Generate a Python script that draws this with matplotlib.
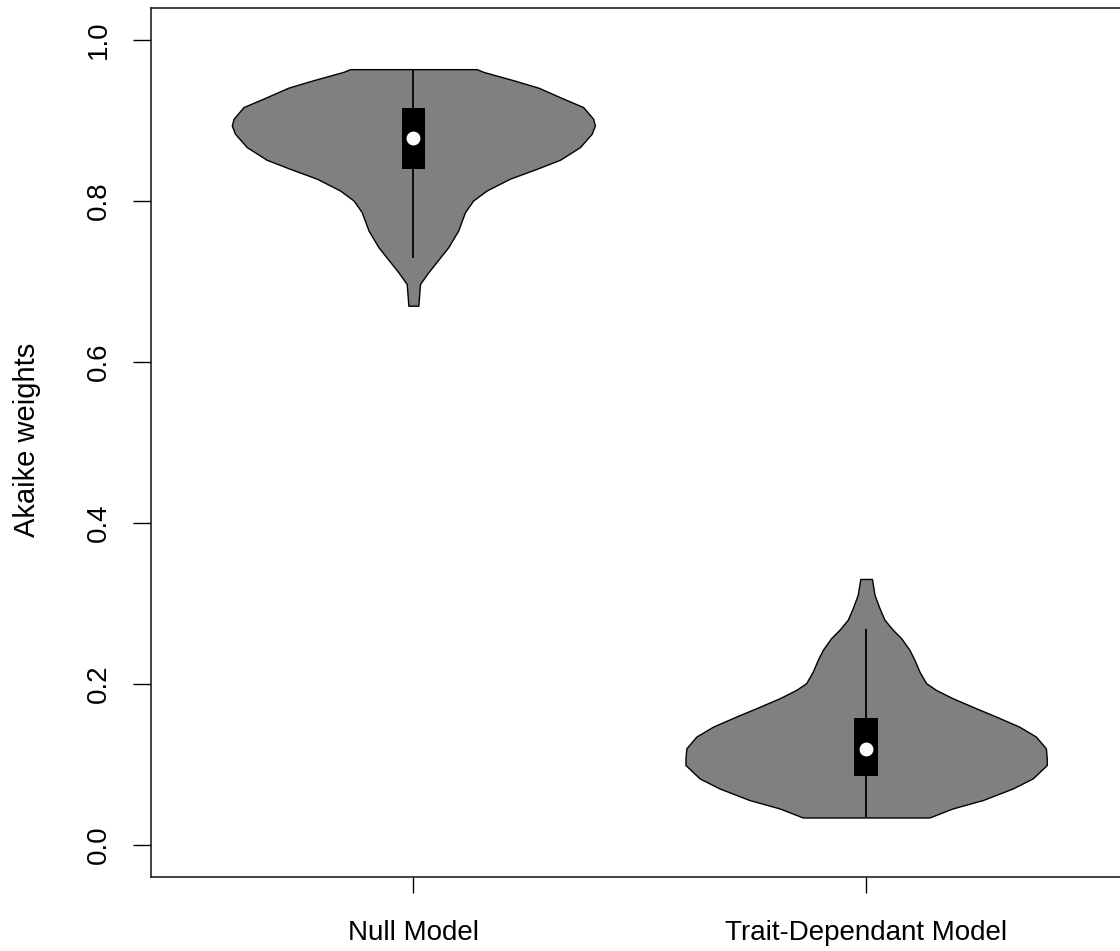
import numpy as np
import matplotlib
matplotlib.use("Agg")
import matplotlib.pyplot as plt

plt.rcParams['font.family'] = ['Liberation Sans', 'DejaVu Sans']

# groups
labels = ["Null Model", "Trait-Dependant Model"]
positions = [1, 2]

# violin outlines: y value and half width (x units)
null_y = [0.964, 0.9606, 0.9502, 0.941, 0.9274, 0.9169, 0.9024, 0.894, 0.8838,
          0.8671, 0.8514, 0.840, 0.8278, 0.8132, 0.8007, 0.7862, 0.7634,
          0.7426, 0.7115, 0.697, 0.670]
null_hw = [0.140, 0.1545, 0.221, 0.276, 0.331, 0.375, 0.397, 0.401, 0.394,
           0.368, 0.324, 0.272, 0.213, 0.162, 0.132, 0.114, 0.099,
           0.077, 0.033, 0.0147, 0.011]

trait_y = [0.3304, 0.311, 0.2943, 0.2798, 0.2673, 0.2569, 0.2424, 0.230,
           0.2154, 0.2009, 0.1925, 0.1822, 0.1697, 0.1594, 0.1469, 0.1345,
           0.1200, 0.1075, 0.0992, 0.0826, 0.0701, 0.0557, 0.0452, 0.034]
trait_hw = [0.0129, 0.0184, 0.0294, 0.0405, 0.0589, 0.0773, 0.0956, 0.1067,
            0.1177, 0.1325, 0.1545, 0.191, 0.243, 0.287, 0.338, 0.375,
            0.397, 0.399, 0.399, 0.368, 0.324, 0.258, 0.191, 0.140]

# box plot summaries
q1 = [0.840, 0.0855]
q3 = [0.9155, 0.1582]
medians = [0.8788, 0.1192]
whisk_lo = [0.7292, 0.034]
whisk_hi = [0.964, 0.2686]

fig = plt.figure(figsize=(11.2, 9.51), dpi=100)
ax = fig.add_axes([0.1346, 0.0778, 0.8732, 0.9138])

outlines = [(null_y, null_hw), (trait_y, trait_hw)]
box_hw = 0.026
for i, pos in enumerate(positions):
    y = np.array(outlines[i][0])
    hw = np.array(outlines[i][1])
    ax.fill_betweenx(y, pos - hw, pos + hw, facecolor='#808080',
                     edgecolor='black', linewidth=1.0, zorder=1)
    ax.vlines(pos, whisk_lo[i], whisk_hi[i], color='black', linewidth=1.3, zorder=2)
    ax.fill_betweenx([q1[i], q3[i]], pos - box_hw, pos + box_hw,
                     color='black', linewidth=0, zorder=3)
    ax.plot(pos, medians[i], 'o', color='white', markersize=10,
            markeredgewidth=0, zorder=4)

ax.set_xlim(0.42, 2.58)
ax.set_ylim(-0.04, 1.04)
ax.set_xticks(positions)
ax.set_xticklabels(labels)
ax.set_yticks([0.0, 0.2, 0.4, 0.6, 0.8, 1.0])
ax.set_yticklabels(["0.0", "0.2", "0.4", "0.6", "0.8", "1.0"],
                   rotation=90, va='center')

ax.tick_params(axis='y', length=13, width=1, pad=15, labelsize=20)
ax.tick_params(axis='x', length=11.5, width=1, pad=19.5, labelsize=20)
for s in ax.spines.values():
    s.set_linewidth(1.2)
    s.set_color('#222222')

fig.text(27 / 1120, 1 - 440 / 951, "Akaike weights", rotation=90,
         ha='center', va='center', fontsize=21)

fig.savefig("out.png", dpi=100)
